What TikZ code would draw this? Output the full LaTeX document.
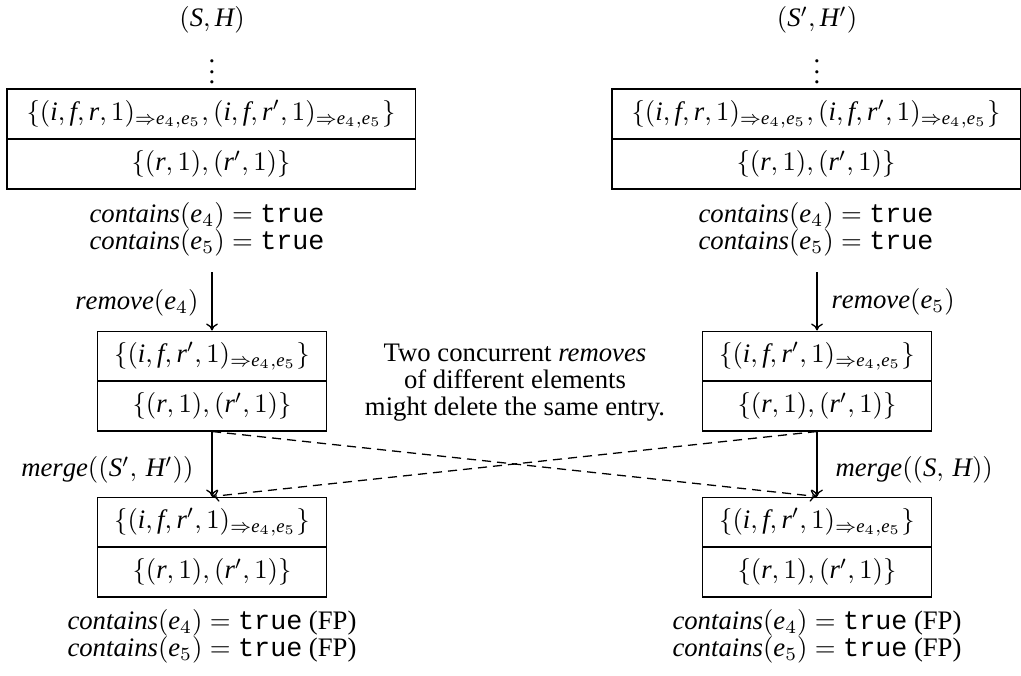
\documentclass[tikz,border=0pt]{standalone}
\usepackage{fontspec}
\setmainfont{Liberation Serif}
\setmonofont{Liberation Mono}
\usetikzlibrary{arrows.meta}
\newcommand{\mi}[1]{\mathit{#1}}
\newcommand{\sube}{_{\Rightarrow \mi{e}_4,\mi{e}_5}}
\newcommand{\tuplesA}{$\{(\mi{i},\mi{f},\mi{r},1)\sube,(\mi{i},\mi{f},\mi{r}',1)\sube\}$}
\newcommand{\tuplesB}{$\{(\mi{i},\mi{f},\mi{r}',1)\sube\}$}
\newcommand{\countsR}{$\{(\mi{r},1),(\mi{r}',1)\}$}
\newcommand{\containsLine}[1]{$\mi{contains}(\mi{e}_{#1}) = \texttt{true}$}
\begin{document}
% 1 unit = 1 pixel of the reference = 0.3745pt
\begin{tikzpicture}[x=0.3745pt,y=-0.3745pt,
  every node/.style={font=\fontsize{10}{10.1}\selectfont, inner sep=0.75pt},
  row/.style={draw, line width=0.38pt, inner sep=0pt, minimum height=18.72pt},
  wide/.style={row, minimum width=152.8pt},
  narrow/.style={row, minimum width=86.1pt},
  arr/.style={-{To[length=2.6pt,width=4.4pt]}, line width=0.48pt},
  dashline/.style={arr, dash pattern=on 3.4pt off 2.25pt}]
\useasboundingbox (0,0) rectangle (1021,675);
% left column
\node (SH) at (212,20) {$(\mi{S},\mi{H})$};
\node (dotsL) at (212,64) {$\vdots$};
\node[wide] (L1a) at (211,114) {\tuplesA};
\node[wide] (L1b) at (211,164) {\countsR};
\node (cL1) at (207,216) {\containsLine{4}};
\node (cL2) at (207,243) {\containsLine{5}};
\node[narrow] (L2a) at (212,356) {\tuplesB};
\node[narrow] (L2b) at (212,406) {\countsR};
\node[narrow] (L3a) at (212,522) {\tuplesB};
\node[narrow] (L3b) at (212,572) {\countsR};
\node (cL3) at (212,623) {\containsLine{4} (FP)};
\node (cL4) at (212,650) {\containsLine{5} (FP)};
% right column
\node (SHp) at (817,20) {$(\mi{S}',\mi{H}')$};
\node (dotsR) at (817,64) {$\vdots$};
\node[wide] (R1a) at (816,114) {\tuplesA};
\node[wide] (R1b) at (816,164) {\countsR};
\node (cR1) at (816,216) {\containsLine{4}};
\node (cR2) at (816,243) {\containsLine{5}};
\node[narrow] (R2a) at (817,356) {\tuplesB};
\node[narrow] (R2b) at (817,406) {\countsR};
\node[narrow] (R3a) at (817,522) {\tuplesB};
\node[narrow] (R3b) at (817,572) {\countsR};
\node (cR3) at (817,623) {\containsLine{4} (FP)};
\node (cR4) at (817,650) {\containsLine{5} (FP)};
% middle note
\node[align=center] (note) at (515,383) {Two concurrent \textit{removes}\\of different elements\\might delete the same entry.};
% arrows
\coordinate (aL) at (212,272);
\coordinate (aR) at (817,272);
\draw[arr] (aL) -- (L2a.north);
\draw[arr] (aR) -- (R2a.north);
\node[anchor=east] (remL) at (201,303) {$\mi{remove}(\mi{e}_4)$};
\node[anchor=west] (remR) at (829,302) {$\mi{remove}(\mi{e}_5)$};
\draw[arr] (L2b.south) -- (L3a.north);
\draw[arr] (R2b.south) -- (R3a.north);
\draw[dashline] (L2b.south) -- (R3a.north);
\draw[dashline] (R2b.south) -- (L3a.north);
\node[anchor=east] (mL) at (196,470) {$\mi{merge}((\mi{S}',\,\mi{H}'))$};
\node[anchor=west] (mR) at (833,470) {$\mi{merge}((\mi{S},\,\mi{H}))$};
\end{tikzpicture}
\end{document}
